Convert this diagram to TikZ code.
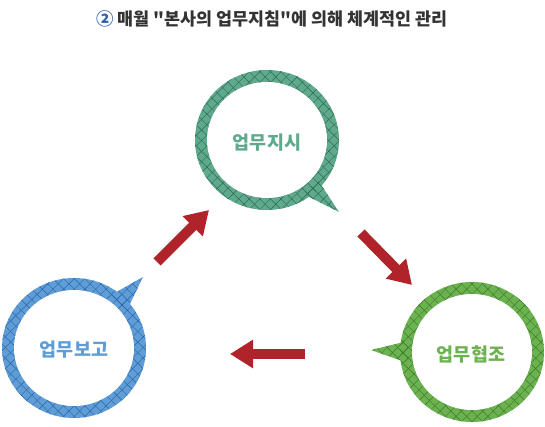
\documentclass[tikz,border=0pt]{standalone}
\usepackage{fontspec}
\newfontfamily\kr{Noto Sans CJK KR}
\usetikzlibrary{patterns.meta,arrows.meta}
\definecolor{tealc}{HTML}{5FA98C}
\definecolor{teald}{HTML}{2C6A54}
\definecolor{bluec}{HTML}{5E9DD6}
\definecolor{blued}{HTML}{2B62A8}
\definecolor{greenc}{HTML}{6CB250}
\definecolor{greend}{HTML}{3A7A28}
\definecolor{arrowc}{HTML}{B0232A}
\definecolor{titlec}{HTML}{333333}
\definecolor{numc}{HTML}{2E5FAE}
\tikzset{
  hatch/.style={pattern={Lines[angle=45,distance=7.5pt,line width=0.45pt]},pattern color=#1},
  hatchb/.style={pattern={Lines[angle=-45,distance=7.5pt,line width=0.45pt]},pattern color=#1},
  lbl/.style={font=\kr\bfseries\fontsize{18.5}{20}\selectfont,text=#1},
  bigarrow/.style={arrowc,line width=10pt,-{Triangle[width=27pt,length=23pt]}}
}
\newcommand{\bubble}[8]{%
  \fill[#5] #1 ellipse [x radius=72pt, y radius=70pt];
  \fill[#5] #2 -- #4 -- #3 -- cycle;
  \path[hatch=#6] #1 ellipse [x radius=72pt, y radius=70pt];
  \path[hatch=#6] #2 -- #4 -- #3 -- cycle;
  \path[hatchb=#6] #1 ellipse [x radius=72pt, y radius=70pt];
  \path[hatchb=#6] #2 -- #4 -- #3 -- cycle;
  \fill[white] #1 ellipse [x radius=60pt, y radius=58pt];
}
\begin{document}
\begin{tikzpicture}[x=1pt,y=-1pt]
\useasboundingbox (0,0) rectangle (545,427);
\fill[white] (0,0) rectangle (545,427);
% title
\node (title) at (272,19) {\kr\bfseries\fontsize{17.4}{19}\selectfont\textcolor{numc}{②} \textcolor{titlec}{매월 "본사의 업무지침"에 의해 체계적인 관리}};
% bubbles
\bubble{(267,140)}{(318,180)}{(303,194)}{(339,212)}{tealc}{teald}{}{}
\bubble{(74,348)}{(111,295)}{(127,310)}{(143,277)}{bluec}{blued}{}{}
\bubble{(472,352)}{(408,341)}{(408,363)}{(371,350)}{greenc}{greend}{}{}
\node[lbl=tealc] (jisi) at (267,143) {업무지시};
\node[lbl=bluec] (bogo) at (74,350) {업무보고};
\node[lbl=greenc] (hyeopjo) at (471,355) {업무협조};
% arrows
\coordinate (a1s) at (157,262);
\coordinate (a1e) at (209,210);
\coordinate (a2s) at (361,233);
\coordinate (a2e) at (412,285);
\coordinate (a3s) at (305,354);
\coordinate (a3e) at (230,354);
\draw[bigarrow] (a1s) -- (a1e);
\draw[bigarrow] (a2s) -- (a2e);
\draw[bigarrow] (a3s) -- (a3e);
\end{tikzpicture}
\end{document}
